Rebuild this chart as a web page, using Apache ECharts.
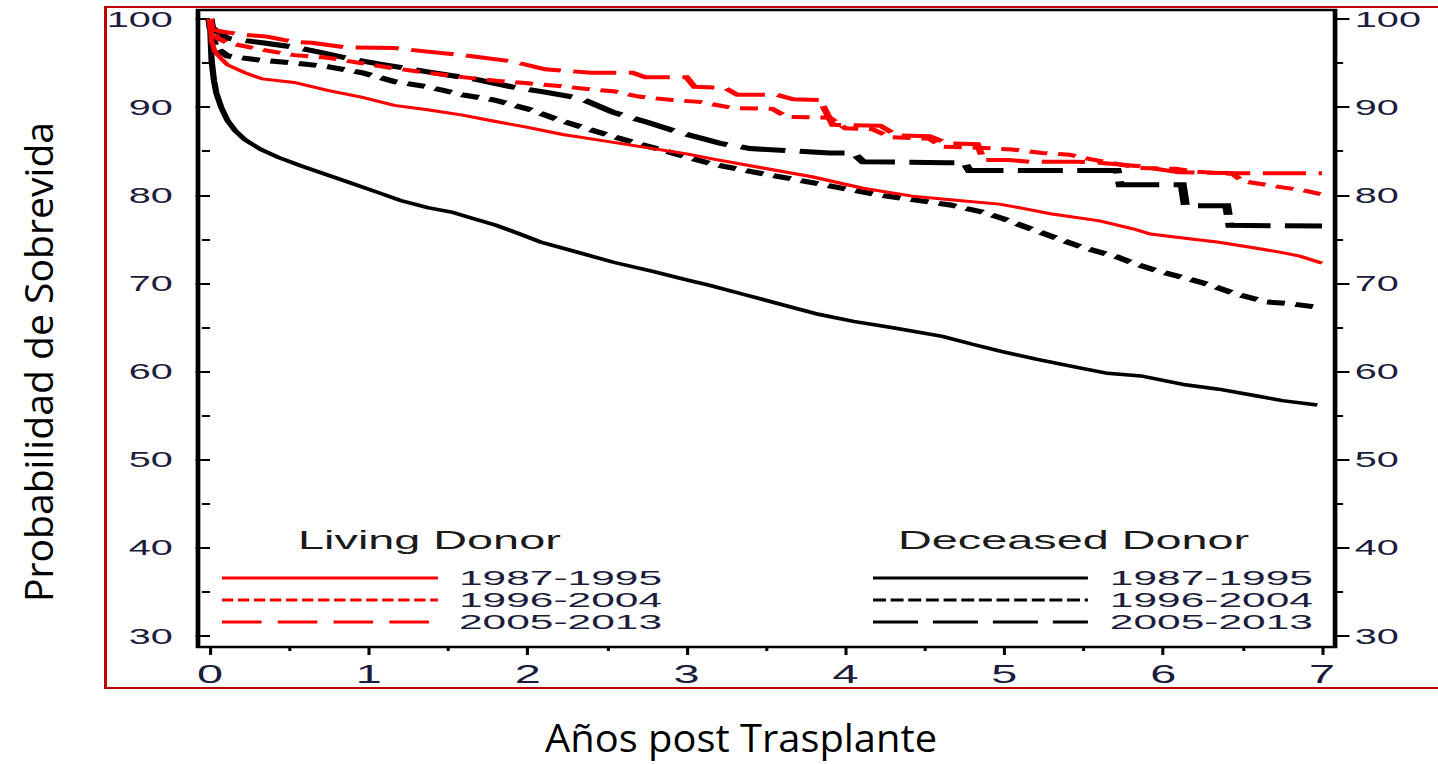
<!DOCTYPE html>
<html>
<head>
<meta charset="utf-8">
<script src="https://cdn.jsdelivr.net/npm/echarts@6/dist/echarts.min.js"></script>
<style>
  html, body { margin: 0; padding: 0; background: #ffffff; overflow: hidden; }
  /* the figure is drawn narrow and widened horizontally, like the original slide graphic */
  #chart { position: absolute; left: 0; top: 0; width: 799px; height: 764px; transform: scaleX(1.8); transform-origin: 0 0; }
  /* slide frame: top, left and bottom rules, running off the page on the right */
  .rule { position: absolute; background: #c00000; pointer-events: none; }
  #ruleTop { left: 104px; top: 6px; width: 1334px; height: 2px; }
  #ruleBottom { left: 104px; top: 687px; width: 1334px; height: 2px; }
  #ruleLeft { left: 104px; top: 6px; width: 3px; height: 683px; }
</style>
</head>
<body>
<div id="chart"></div>
<div class="rule" id="ruleTop"></div>
<div class="rule" id="ruleLeft"></div>
<div class="rule" id="ruleBottom"></div>
<script>
// Kaplan-Meier survival (%) by donor type and transplant era, [years, survival]
const living8795 = [[0,100],[0.01,97.5],[0.03,96.3],[0.07,95.5],[0.11,94.8],[0.22,93.9],[0.33,93.2],[0.53,92.8],[0.74,91.9],[0.96,91.1],[1.16,90.2],[1.37,89.7],[1.59,89.1],[1.79,88.4],[2.0,87.7],[2.22,86.9],[2.4,86.4],[2.75,85.4],[3.0,84.7],[3.17,84.1],[3.48,83.1],[3.79,82.1],[4.11,80.8],[4.42,79.9],[4.66,79.5],[4.97,79.0],[5.15,78.4],[5.29,77.9],[5.6,77.1],[5.81,76.2],[5.92,75.6],[6.15,75.1],[6.34,74.7],[6.55,74.1],[6.75,73.5],[6.86,73.1],[7.0,72.3]];
const living9604 = [[0,100],[0.01,98.8],[0.05,97.8],[0.11,97.3],[0.33,96.5],[0.53,95.9],[0.74,95.6],[0.95,95.0],[1.16,94.4],[1.37,93.9],[1.59,93.4],[1.8,93.0],[2.0,92.7],[2.2,92.4],[2.4,92.0],[2.54,91.8],[2.7,91.2],[2.91,90.8],[3.08,90.6],[3.29,89.9],[3.54,89.8],[3.63,88.9],[3.9,88.8],[4.0,87.6],[4.17,87.5],[4.28,86.6],[4.53,86.4],[4.61,85.5],[4.83,85.4],[5.05,85.2],[5.24,84.8],[5.41,84.6],[5.54,84.1],[5.7,83.6],[5.85,83.1],[6.08,83.0],[6.2,82.7],[6.44,82.4],[6.5,81.6],[6.75,80.9],[6.87,80.6],[7.0,80.1]];
const living0513 = [[0,100],[0.01,98.8],[0.1,98.5],[0.22,98.2],[0.36,98.0],[0.53,97.4],[0.64,97.3],[0.85,96.8],[1.16,96.7],[1.37,96.3],[1.59,95.9],[1.9,95.2],[2.11,94.3],[2.4,93.9],[2.66,93.9],[2.74,93.4],[3.0,93.4],[3.05,92.3],[3.24,92.2],[3.32,91.4],[3.57,91.4],[3.67,90.9],[3.84,90.8],[3.92,88.0],[4.22,87.9],[4.32,86.8],[4.53,86.7],[4.64,85.9],[4.83,85.8],[4.87,84.0],[5.03,84.0],[5.16,83.8],[5.45,83.8],[5.6,83.7],[5.85,83.3],[6.1,82.6],[6.5,82.5],[7.0,82.5]];
const deceased8795 = [[0,100],[0.005,97.5],[0.01,95.3],[0.025,93.0],[0.04,91.6],[0.07,90.0],[0.11,88.5],[0.16,87.3],[0.22,86.3],[0.32,85.2],[0.43,84.3],[0.58,83.3],[0.74,82.3],[0.9,81.3],[1.06,80.3],[1.2,79.4],[1.37,78.6],[1.52,78.1],[1.65,77.4],[1.8,76.6],[1.95,75.6],[2.08,74.7],[2.3,73.6],[2.54,72.4],[2.8,71.3],[3.0,70.4],[3.14,69.8],[3.35,68.8],[3.6,67.6],[3.83,66.5],[4.05,65.7],[4.29,65.0],[4.61,64.0],[4.8,63.1],[4.98,62.3],[5.2,61.4],[5.45,60.5],[5.65,59.8],[5.86,59.5],[6.0,59.0],[6.14,58.5],[6.35,58.0],[6.6,57.2],[6.75,56.7],[6.97,56.2]];
const deceased9604 = [[0,100],[0.01,98.5],[0.03,96.8],[0.11,95.8],[0.33,95.3],[0.53,95.0],[0.74,94.6],[0.96,93.9],[1.16,92.9],[1.37,92.3],[1.59,91.4],[1.79,90.8],[2.0,89.8],[2.22,88.4],[2.4,87.4],[2.55,86.6],[2.75,85.6],[2.95,84.6],[3.17,83.5],[3.4,82.7],[3.59,82.1],[3.8,81.4],[4.01,80.7],[4.22,80.0],[4.42,79.5],[4.66,78.9],[4.86,78.1],[5.0,77.3],[5.18,76.1],[5.35,75.0],[5.49,74.1],[5.71,73.0],[5.81,72.3],[5.95,71.5],[6.12,70.7],[6.3,69.8],[6.44,68.9],[6.65,67.9],[6.8,67.7],[6.97,67.3]];
const deceased0513 = [[0,100],[0.01,99.0],[0.05,98.5],[0.11,97.8],[0.33,97.3],[0.53,96.8],[0.7,96.2],[0.85,95.6],[1.06,94.9],[1.37,94.0],[1.69,93.1],[1.9,92.3],[2.11,91.7],[2.33,91.0],[2.54,89.4],[2.75,88.3],[2.96,87.1],[3.21,85.9],[3.4,85.3],[3.59,85.1],[3.9,84.8],[4.05,84.8],[4.11,83.8],[4.64,83.7],[4.75,83.7],[4.78,82.8],[5.71,82.8],[5.73,81.2],[6.12,81.2],[6.14,78.8],[6.4,78.8],[6.42,76.6],[7.0,76.5]];

// tick positions and legend text
const xTicks = [0, 1, 2, 3, 4, 5, 6, 7];
const xMinorTicks = [0.5, 1.5, 2.5, 3.5, 4.5, 5.5, 6.5];
const yTicks = [30, 40, 50, 60, 70, 80, 90, 100];
const yMinorTicks = [35, 45, 55, 65, 75, 85, 95];
const periods = ['1987-1995', '1996-2004', '2005-2013'];
const groupTitles = ['Living Donor', 'Deceased Donor'];
const xTitle = 'Años post Trasplante';
const yTitle = 'Probabilidad de Sobrevida';

const STRETCH = 1.8;            // must match the CSS scaleX on #chart
const X_MIN = -0.0755, X_MAX = 7.082;
const Y_MIN = 28.75, Y_MAX = 101.02;
const LABEL = '#1c1c3c';
const TICK_FONT = 'Liberation Sans';
const RED = '#ff0000', BLACK = '#000000';

const chart = echarts.init(document.getElementById('chart'), null, { renderer: 'svg' });

function xAxisDef(ticks, len, labels) {
  return {
    type: 'value', min: X_MIN, max: X_MAX, position: 'bottom',
    axisLine: { show: false }, splitLine: { show: false },
    axisTick: { show: true, customValues: ticks, length: len, lineStyle: { color: BLACK, width: 1.7 } },
    axisLabel: labels
      ? { show: true, customValues: ticks, margin: 14, fontFamily: TICK_FONT, fontSize: 26, lineHeight: 26, color: LABEL }
      : { show: false }
  };
}
function yAxisDef(side, ticks, len, labels) {
  return {
    type: 'value', min: Y_MIN, max: Y_MAX, position: side,
    axisLine: { show: false }, splitLine: { show: false },
    axisTick: { show: true, customValues: ticks, length: len, lineStyle: { color: BLACK, width: 2 } },
    axisLabel: labels
      ? { show: true, customValues: ticks, margin: side === 'left' ? 14 : 11, fontFamily: TICK_FONT, fontSize: 22, lineHeight: 22, color: LABEL }
      : { show: false }
  };
}
function curve(name, data, color, width, dash) {
  return {
    name, type: 'line', data, xAxisIndex: 0, yAxisIndex: 0,
    symbol: 'none', showSymbol: false, smooth: false, silent: true,
    lineStyle: { color, width, type: dash || 'solid', cap: 'butt', join: 'miter' }
  };
}

// legend block: sample line + period label for each series
const legendLineY = [578, 600, 622];
const legendTextY = [578, 600, 622];
function legendBlock(title, titleX, lineX1, lineX2, textRight, color, dashes) {
  const els = [{
    type: 'text', x: titleX, y: 540,
    style: { text: title, font: '26px "Liberation Sans"', lineHeight: 26, fill: '#1a1a1a', align: 'left', verticalAlign: 'middle' }
  }];
  periods.forEach((p, i) => {
    els.push({
      type: 'line',
      shape: { x1: lineX1, y1: legendLineY[i], x2: lineX2, y2: legendLineY[i] },
      style: { stroke: color, lineWidth: 3, lineDash: dashes[i], lineCap: 'butt' }
    });
    els.push({
      type: 'text', x: textRight, y: legendTextY[i], scaleX: 1.18,
      style: { text: p, font: '20px "Liberation Sans"', lineHeight: 20, fill: LABEL, align: 'right', verticalAlign: 'middle' }
    });
  });
  return els;
}

const option = {
  animation: false,
  backgroundColor: 'transparent',
  grid: {
    left: 110, right: 57.3, top: 10, bottom: 117,
    show: true, borderColor: BLACK, borderWidth: 2.6, backgroundColor: 'transparent',
    outerBoundsMode: 'none'
  },
  xAxis: [xAxisDef(xTicks, 8, true), xAxisDef(xMinorTicks, 4, false)],
  yAxis: [
    yAxisDef('left', yTicks, 8, true), yAxisDef('left', yMinorTicks, 4.5, false),
    yAxisDef('right', yTicks, 8, true), yAxisDef('right', yMinorTicks, 4.5, false)
  ],
  series: [
    curve('Deceased 1987-1995', deceased8795, BLACK, 3.5),
    curve('Deceased 1996-2004', deceased9604, BLACK, 5, [10, 6]),
    curve('Deceased 2005-2013', deceased0513, BLACK, 5, [25, 8]),
    curve('Living 1987-1995', living8795, RED, 3),
    curve('Living 1996-2004', living9604, RED, 4, [10, 6]),
    curve('Living 2005-2013', living0513, RED, 4, [24, 7])
  ],
  graphic: [
    ...legendBlock(groupTitles[0], 165.6, 123.3, 243.3, 367.8, RED,
      [null, [6.3, 2.6], [22, 9]]),
    ...legendBlock(groupTitles[1], 498.9, 485, 604.4, 729.4, BLACK,
      [null, [7.2, 2.6], [25, 8.3]]),
    // axis titles, kept at natural proportions despite the horizontal stretch
    {
      type: 'text', x: 411.7, y: 737, scaleX: 1.05 / STRETCH,
      style: { text: xTitle, font: '38px "Open Sans"', lineHeight: 38, fill: '#000', align: 'center', verticalAlign: 'middle' }
    },
    {
      type: 'text', x: 21.1, y: 362, rotation: Math.PI / 2, scaleY: 1 / STRETCH, scaleX: 1.03,
      style: { text: yTitle, font: '38px "Open Sans"', lineHeight: 38, fill: '#000', align: 'center', verticalAlign: 'middle' }
    }
  ]
};

chart.setOption(option);
</script>
</body>
</html>
